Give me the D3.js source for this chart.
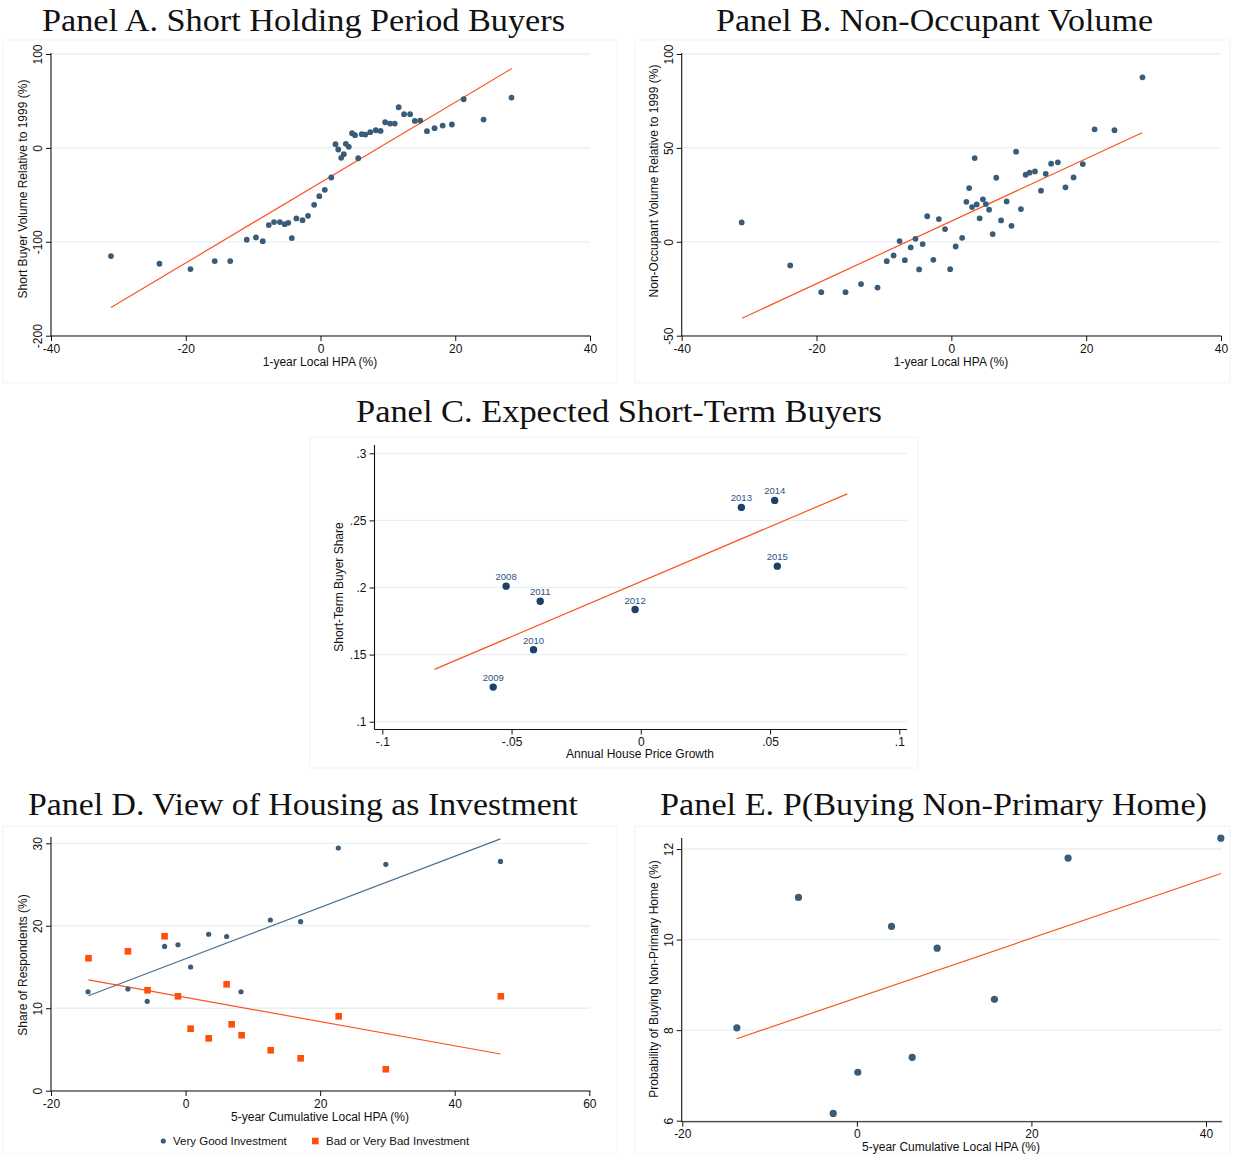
<!DOCTYPE html>
<html><head><meta charset="utf-8">
<script src="https://cdn.jsdelivr.net/npm/d3@7"></script>
<style>body{margin:0;background:#fff} text{font-family:"Liberation Sans",Arial,Helvetica,sans-serif}</style>
</head><body>
<svg id="chart" width="1233" height="1154"></svg>
<script>
// ---------- DATA ----------
// Panels A & B share the 1-year local HPA (%) values
const hpa1 = [-31.1,-23.9,-19.3,-15.7,-13.4,-10.95,-9.58,-8.57,-7.68,-6.9,-6.03,-5.32,-4.78,-4.26,-3.58,-2.67,-1.85,-0.94,-0.18,0.64,1.6,2.23,2.64,3.07,3.46,3.76,4.2,4.68,5.12,5.6,6.13,6.66,7.38,8.2,8.92,9.6,10.32,11.02,11.6,12.4,13.3,14.0,14.8,15.8,16.93,18.13,19.5,21.25,24.2,28.35];
const shortBuyerVol = [-115.2,-123.4,-129,-120.5,-120.5,-97.8,-95.3,-99.3,-82.2,-79,-79,-81.2,-79.8,-96,-75.1,-77,-72.3,-60.6,-51.4,-44.7,-31.5,3.9,-1.7,-10.6,-6.7,4.3,1.1,15.6,13.5,-11,14.6,14.2,16.7,18.8,18.1,27.3,25.9,25.9,43.3,35.9,35.9,28.7,29.1,17.8,21,23.8,24.9,51.8,30.2,53.6];
const nonOccVol = [10.3,-12.6,-26.8,-26.8,-22.5,-24.4,-10.3,-7.3,0.4,-9.8,-3.0,1.6,-14.7,-1.2,13.6,-9.6,12.1,6.8,-14.6,-2.5,2.1,21.3,28.6,18.5,44.6,19.9,12.5,22.6,20.1,17.1,4.1,34.1,11.4,21.5,8.5,48,17.4,35.7,36.8,37.5,27.2,36.2,41.6,42.3,29,34.3,41.4,59.9,59.4,87.6];
const fitA = [[-31.1,-170],[28.4,84.5]];
const fitB = [[-31.05,-40.7],[28.3,58.1]];

// Panel C
const years = ["2008","2009","2010","2011","2012","2013","2014","2015"];
const annualHPG = [-0.0521,-0.0571,-0.0415,-0.0389,-0.0022,0.0389,0.0518,0.0528];
const shortTermShare = [0.201,0.1258,0.1537,0.1898,0.1836,0.2597,0.2649,0.2159];
const fitC = [[-0.0798,0.139],[0.0799,0.2698]];

// Panel D
const goodX = [-14.5,-8.57,-5.7,-3.12,-1.13,0.75,3.43,6.1,8.24,12.6,17.1,22.7,29.76,46.8];
const goodY = [12.0,12.33,10.84,17.5,17.7,15.0,18.97,18.7,12.0,20.7,20.5,29.43,27.45,27.8];
const badX = [-14.43,-8.57,-5.65,-3.12,-1.13,0.75,3.43,6.1,6.85,8.33,12.65,17.1,22.75,29.76,46.85];
const badY = [16.06,16.9,12.18,18.73,11.45,7.52,6.35,12.9,8.05,6.72,4.9,3.93,9.02,2.6,11.45];
const fitGood = [[-14.43,11.52],[46.8,30.53]];
const fitBad = [[-14.43,13.43],[46.8,4.45]];
const legendD = ["Very Good Investment","Bad or Very Bad Investment"];

// Panel E
const hpa5E = [-13.75,-6.69,-2.71,0.11,3.97,6.34,9.2,15.76,24.2,41.7];
const probNonPrimary = [8.05,10.93,6.16,7.07,10.29,7.40,9.81,8.68,11.8,12.24];
const fitE = [[-13.75,7.81],[41.73,11.46]];

// Tick values
const ticksA_x = [-40,-20,0,20,40], ticksA_y = [-200,-100,0,100];
const ticksB_x = [-40,-20,0,20,40], ticksB_y = [-50,0,50,100];
const ticksC_x = [-0.1,-0.05,0,0.05,0.1], ticksC_y = [0.1,0.15,0.2,0.25,0.3];
const ticksD_x = [-20,0,20,40,60], ticksD_y = [0,10,20,30];
const ticksE_x = [-20,0,20,40], ticksE_y = [6,8,10,12];

// ---------- STYLE ----------
const DOT = "#3a5c79", DOTC = "#1d3f69", FIT = "#fb5420", SQ = "#ff4f0a", FITG = "#4f6f8b", GRID = "#e9f0f2";
const svg = d3.select("#chart");
const stataFmt = d => { if (d === 0) return "0"; let s = String(+d.toFixed(4)); return s.replace(/^(-?)0\./, "$1."); };

// faint graph-region borders
[[3,40,614,343],[635,40,595,343],[310,437,608,331],[3,826,614,328],[635,826,595,328]].forEach(r=>{
  svg.append("rect").attr("x",r[0]).attr("y",r[1]).attr("width",r[2]).attr("height",r[3])
    .attr("fill","none").attr("stroke","#f1f3f4").attr("stroke-width",1);
});

function panel(o){
  const g = svg.append("g");
  const x = d3.scaleLinear().domain(o.xd).range(o.xr);
  const y = d3.scaleLinear().domain(o.yd).range(o.yr);
  // gridlines
  g.selectAll("line.grid").data(o.yt).join("line").attr("class","grid")
    .attr("x1",o.gx[0]).attr("x2",o.gx[1]).attr("y1",d=>y(d)).attr("y2",d=>y(d))
    .attr("stroke",GRID).attr("stroke-width",1.3);
  // y axis
  const ya = g.append("g").attr("transform",`translate(${o.ax},0)`)
    .call(d3.axisLeft(y).tickValues(o.yt).tickFormat(stataFmt).tickSize(5).tickSizeOuter(0));
  ya.select(".domain").remove();
  ya.selectAll("line").attr("stroke","#111").attr("stroke-width",1);
  ya.selectAll("text").style("font-size","12px").attr("fill","#111");
  if (o.rotY){
    ya.selectAll("text").attr("transform","rotate(-90)").attr("x",0).attr("y",-9).attr("dy",0).style("text-anchor","middle");
  } else {
    ya.selectAll("text").attr("x",-8);
  }
  g.append("line").attr("x1",o.ax).attr("x2",o.ax).attr("y1",o.ayl[0]).attr("y2",o.ayl[1]).attr("stroke","#111").attr("stroke-width",1.1);
  // x axis
  const xa = g.append("g").attr("transform",`translate(0,${o.ay})`)
    .call(d3.axisBottom(x).tickValues(o.xt).tickFormat(stataFmt).tickSize(5).tickSizeOuter(0));
  xa.select(".domain").remove();
  xa.selectAll("line").attr("stroke","#111").attr("stroke-width",1);
  xa.selectAll("text").style("font-size","12px").attr("fill","#111");
  g.append("line").attr("x1",o.axl[0]).attr("x2",o.axl[1]).attr("y1",o.ay).attr("y2",o.ay).attr("stroke","#111").attr("stroke-width",1.1);
  // titles
  g.append("text").attr("x",o.xtitle[0]).attr("y",o.xtitle[1]).attr("text-anchor","middle")
    .style("font-size","12px").attr("fill","#111").text(o.xlab);
  g.append("text").attr("transform",`translate(${o.ytitle[0]},${o.ytitle[1]}) rotate(-90)`).attr("text-anchor","middle")
    .style("font-size","12px").attr("fill","#111").text(o.ylab);
  g.append("text").attr("x",o.title[0]).attr("y",o.title[1]).attr("text-anchor","middle")
    .attr("textLength",o.title[2]).attr("lengthAdjust","spacingAndGlyphs")
    .style("font-family","'Liberation Serif','DejaVu Serif',serif").style("font-size","31px").attr("fill","#111").text(o.tlab);
  return {g,x,y};
}
function fitLine(p, pts, color, w){
  p.g.append("path").datum(pts).attr("d", d3.line().x(d=>p.x(d[0])).y(d=>p.y(d[1])))
    .attr("fill","none").attr("stroke",color).attr("stroke-width",w||1.2);
}

// Panel A
const pA = panel({xd:[-40,40],xr:[51,590],yd:[-200,100],yr:[335.7,54],xt:ticksA_x,yt:ticksA_y,
  gx:[51,590],ax:51,ayl:[53,336],ay:336,axl:[51,590.5],rotY:true,
  xlab:"1-year Local HPA (%)",xtitle:[320,366],ylab:"Short Buyer Volume Relative to 1999 (%)",ytitle:[27,189],
  tlab:"Panel A. Short Holding Period Buyers",title:[303.5,31,523]});
fitLine(pA, fitA, FIT);
pA.g.selectAll("circle").data(d3.zip(hpa1, shortBuyerVol)).join("circle")
  .attr("cx",d=>pA.x(d[0])).attr("cy",d=>pA.y(d[1])).attr("r",2.9).attr("fill",DOT);

// Panel B
const pB = panel({xd:[-40,40],xr:[681.7,1221],yd:[-50,100],yr:[335.7,54],xt:ticksB_x,yt:ticksB_y,
  gx:[681.7,1221],ax:681.7,ayl:[53,336],ay:336,axl:[681.7,1221.5],rotY:true,
  xlab:"1-year Local HPA (%)",xtitle:[951,366],ylab:"Non-Occupant Volume Relative to 1999 (%)",ytitle:[658,181],
  tlab:"Panel B. Non-Occupant Volume",title:[934.5,31,437]});
fitLine(pB, fitB, FIT);
pB.g.selectAll("circle").data(d3.zip(hpa1, nonOccVol)).join("circle")
  .attr("cx",d=>pB.x(d[0])).attr("cy",d=>pB.y(d[1])).attr("r",2.9).attr("fill",DOT);

// Panel C
const pC = panel({xd:[-0.1,0.1],xr:[382.3,899.3],yd:[0.1,0.3],yr:[721.7,453.3],xt:ticksC_x,yt:ticksC_y,
  gx:[374.5,907],ax:374.5,ayl:[445,729.5],ay:729.5,axl:[374.5,907],rotY:false,
  xlab:"Annual House Price Growth",xtitle:[640,758],ylab:"Short-Term Buyer Share",ytitle:[343,587],
  tlab:"Panel C. Expected Short-Term Buyers",title:[619,422,526]});
fitLine(pC, fitC, FIT);
const cData = d3.zip(annualHPG, shortTermShare, years);
pC.g.selectAll("circle").data(cData).join("circle")
  .attr("cx",d=>pC.x(d[0])).attr("cy",d=>pC.y(d[1])).attr("r",3.7).attr("fill",DOTC);
pC.g.selectAll("text.lab").data(cData).join("text").attr("class","lab")
  .attr("x",d=>pC.x(d[0])).attr("y",d=>pC.y(d[1])-6).attr("text-anchor","middle")
  .style("font-size","9.5px").attr("fill","#2a5384").text(d=>d[2]);

// Panel D
const pD = panel({xd:[-20,60],xr:[51,589.3],yd:[0,30],yr:[1090.7,843.3],xt:ticksD_x,yt:ticksD_y,
  gx:[51,590],ax:51,ayl:[837,1091],ay:1091,axl:[51,590.5],rotY:true,
  xlab:"5-year Cumulative Local HPA (%)",xtitle:[320,1121],ylab:"Share of Respondents (%)",ytitle:[27,965],
  tlab:"Panel D. View of Housing as Investment",title:[303,815,550]});
fitLine(pD, fitGood, FITG);
fitLine(pD, fitBad, FIT);
pD.g.selectAll("circle.good").data(d3.zip(goodX, goodY)).join("circle").attr("class","good")
  .attr("cx",d=>pD.x(d[0])).attr("cy",d=>pD.y(d[1])).attr("r",2.6).attr("fill",DOT);
pD.g.selectAll("rect.bad").data(d3.zip(badX, badY)).join("rect").attr("class","bad")
  .attr("x",d=>pD.x(d[0])-3.3).attr("y",d=>pD.y(d[1])-3.3).attr("width",6.6).attr("height",6.6).attr("fill",SQ);
// legend
const lg = svg.append("g");
lg.append("circle").attr("cx",163.3).attr("cy",1141).attr("r",2.6).attr("fill",DOT);
lg.append("text").attr("x",173).attr("y",1145).style("font-size","11.5px").attr("fill","#111").text(legendD[0]);
lg.append("rect").attr("x",312).attr("y",1137.7).attr("width",6.6).attr("height",6.6).attr("fill",SQ);
lg.append("text").attr("x",326).attr("y",1145).style("font-size","11.5px").attr("fill","#111").text(legendD[1]);

// Panel E
const pE = panel({xd:[-20,40],xr:[682.3,1206],yd:[6,12],yr:[1120.7,849],xt:ticksE_x,yt:ticksE_y,
  gx:[681.7,1222],ax:681.7,ayl:[838,1121.7],ay:1121.7,axl:[681.7,1222],rotY:true,
  xlab:"5-year Cumulative Local HPA (%)",xtitle:[951,1151],ylab:"Probability of Buying Non-Primary Home (%)",ytitle:[658,979],
  tlab:"Panel E. P(Buying Non-Primary Home)",title:[933.5,815,547]});
fitLine(pE, fitE, FIT);
pE.g.selectAll("circle").data(d3.zip(hpa5E, probNonPrimary)).join("circle")
  .attr("cx",d=>pE.x(d[0])).attr("cy",d=>pE.y(d[1])).attr("r",3.6).attr("fill",DOT);
</script>
</body></html>
